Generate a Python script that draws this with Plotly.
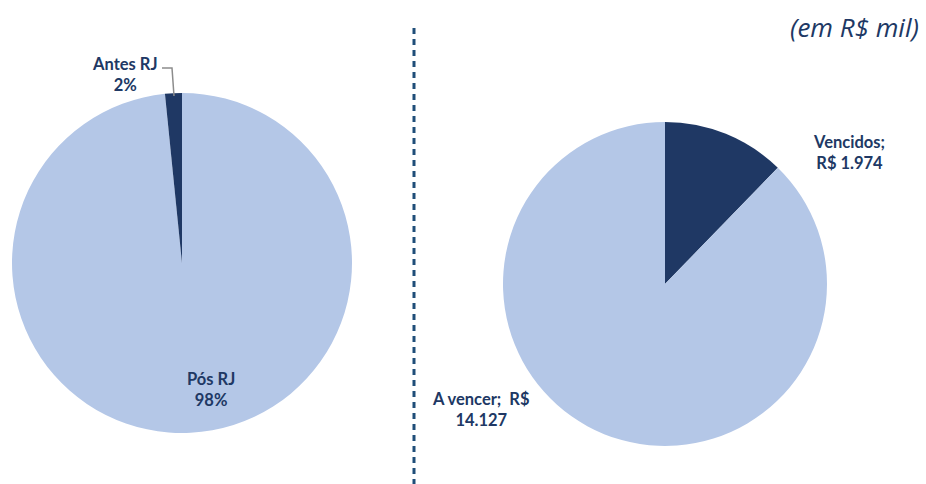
import plotly.graph_objects as go

W, H = 926, 484

# Left pie: moment of constitution relative to RJ (percent shares)
left_labels = ["Pós RJ", "Antes RJ"]
left_values = [98.4, 1.6]

# Right pie: maturity status (R$ mil)
right_labels = ["Vencidos", "A vencer"]
right_values = [1974, 14127]

dark = "#1F3864"
light = "#B4C7E7"
txt = "#203864"

def px_x(x):
    return x / W

def px_y(y):
    return 1 - y / H

fig = go.Figure()

fig.add_trace(go.Pie(
    labels=left_labels, values=left_values, sort=False, direction="clockwise",
    rotation=0, marker=dict(colors=[light, dark], line=dict(width=0)),
    textinfo="none", hoverinfo="label+percent", showlegend=False,
    domain=dict(x=[px_x(12), px_x(352)], y=[px_y(433), px_y(93)]),
))

fig.add_trace(go.Pie(
    labels=right_labels, values=right_values, sort=False, direction="clockwise",
    rotation=0, marker=dict(colors=[dark, light], line=dict(width=0)),
    textinfo="none", hoverinfo="label+value", showlegend=False,
    domain=dict(x=[px_x(503), px_x(827)], y=[px_y(446), px_y(122)]),
))

ltot = sum(left_values)
lp = {l: round(v / ltot * 100) for l, v in zip(left_labels, left_values)}

def fmt_br(v):
    return f"{v:,.0f}".replace(",", ".")

rv = dict(zip(right_labels, right_values))

font = dict(family="Lato, Open Sans, sans-serif", size=16.5, color=txt)

annots = [
    (125, 74, f"<b>Antes RJ</b><br><b>{lp['Antes RJ']}%</b>"),
    (211, 389, f"<b>Pós RJ</b><br><b>{lp['Pós RJ']}%</b>"),
    (849, 152, f"<b>Vencidos;</b><br><b>R$ {fmt_br(rv['Vencidos'])}</b>"),
    (481, 409, f"<b>A vencer;  R$</b><br><b>{fmt_br(rv['A vencer'])}</b>"),
]
for x, y, t in annots:
    fig.add_annotation(x=px_x(x), y=px_y(y), xref="paper", yref="paper", text=t,
                       showarrow=False, font=font, align="center",
                       xanchor="center", yanchor="middle")

fig.add_annotation(x=px_x(921), y=px_y(27), xref="paper", yref="paper",
                   text="<i>(em R$ mil)</i>", showarrow=False,
                   font=dict(family="Open Sans, Lato, sans-serif", size=26, color=txt),
                   xanchor="right", yanchor="middle")

# leader line for Antes RJ
fig.add_shape(type="path", xref="paper", yref="paper",
              path=f"M {px_x(174)} {px_y(96)} L {px_x(172)} {px_y(68)} L {px_x(162)} {px_y(68)}",
              line=dict(color="#8C8C8C", width=1.5))

# dashed separator
fig.add_shape(type="line", xref="paper", yref="paper",
              x0=px_x(414), x1=px_x(414), y0=px_y(28), y1=0,
              line=dict(color="#1F4E79", width=3, dash="6px,5px"))

fig.update_layout(width=W, height=H, margin=dict(l=0, r=0, t=0, b=0),
                  paper_bgcolor="white", plot_bgcolor="white")

fig.write_html("out.html", config={"displayModeBar": False})

with open("out.html", encoding="utf-8") as f:
    html = f.read()
html = html.replace("<body>", '<body style="margin:0;overflow:hidden">', 1)
with open("out.html", "w", encoding="utf-8") as f:
    f.write(html)
